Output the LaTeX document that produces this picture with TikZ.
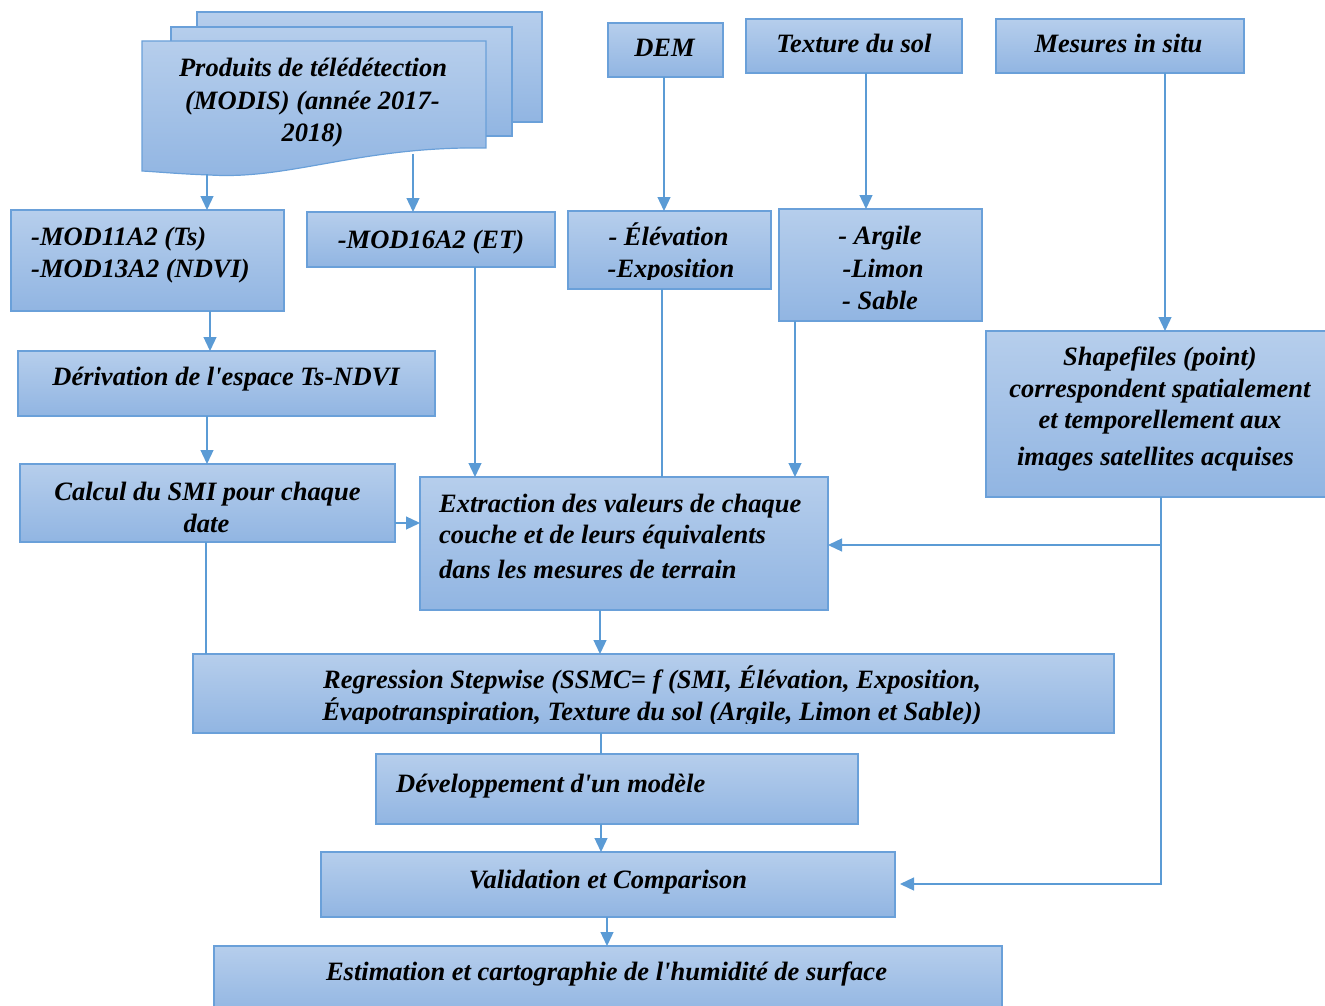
\documentclass[tikz,border=0pt]{standalone}
\usepackage{fontspec}
\setmainfont{Liberation Serif}
\usetikzlibrary{arrows.meta}
\definecolor{ftop}{RGB}{182,206,236}
\definecolor{fbot}{RGB}{145,181,226}
\definecolor{bord}{RGB}{106,160,217}
\definecolor{lin}{RGB}{91,155,213}
\tikzset{
 box/.style={draw=bord, line width=1.2pt, top color=ftop, bottom color=fbot, inner sep=0pt, outer sep=0pt},
 conn/.style={draw=lin, line width=1.3pt},
 arr/.style={conn, -{Triangle[length=14pt,width=13pt]}},
 lbl/.style={inner sep=0pt, anchor=base, font=\fontsize{26.5}{32}\selectfont\bfseries\itshape},
 lbll/.style={lbl, anchor=base west}
}
\newcommand\mybox[5]{\node[box, minimum width={#4-#2}, minimum height={#5-#3}] (#1) at ({(#2+#4)/2},{(#3+#5)/2}) {};}
\begin{document}
\begin{tikzpicture}[x=1pt,y=-1pt]
\useasboundingbox (0,0) rectangle (1325,1006);
% document stack
\path[box] (197,12) rectangle (542,122);
\path[box] (171,27) rectangle (512,136);
\path[box] (142,41) -- (486,41) -- (486,148) .. controls (360,146) and (290,180) .. (210,175) .. controls (180,174) and (160,172) .. (142,171) -- cycle;
\coordinate (docL) at (207,174);
\coordinate (docR) at (413,154);
\node[lbl] at (313,77) {Produits de télédétection};
\node[lbl] at (312.5,110) {(MODIS) (année 2017-};
\node[lbl] at (312.5,142) {2018)};
% boxes
\mybox{mod11}{11}{210}{284}{311}
\mybox{mod16}{307}{212}{555}{267}
\mybox{dem}{608}{23}{723}{77}
\mybox{tex}{746}{19}{962}{73}
\mybox{mes}{996}{19}{1244}{73}
\mybox{elev}{568}{211}{771}{289}
\mybox{arg}{779}{209}{982}{321}
\mybox{shp}{986}{331}{1327}{497}
\mybox{deriv}{18}{351}{435}{416}
\mybox{calc}{20}{464}{395}{542}
\mybox{extr}{420}{477}{828}{610}
\mybox{reg}{193}{654}{1114}{733}
\mybox{dev}{376}{754}{858}{824}
\mybox{val}{321}{852}{895}{917}
\mybox{est}{214}{946}{1002}{1015}
% texts
\node[lbll] at (31,245) {-MOD11A2 (Ts)};
\node[lbll] at (31,277) {-MOD13A2 (NDVI)};
\node[lbl] at (431,248) {-MOD16A2 (ET)};
\node[lbl] at (664.5,57) {DEM};
\node[lbl] at (854,53) {Texture du sol};
\node[lbl] at (1118.5,53) {Mesures in situ};
\node[lbl] at (668.5,245) {- Élévation};
\begin{scope}
\clip (568,211) rectangle (771,279);
\node[lbl] at (671,277) {-Exposition};
\end{scope}
\node[lbl] at (880,244) {- Argile};
\node[lbl] at (883,277) {-Limon};
\node[lbl] at (880,309) {- Sable};
\node[lbl] at (1160,365) {Shapefiles (point)};
\node[lbl] at (1160,397) {correspondent spatialement};
\node[lbl] at (1160,428) {et temporellement aux};
\node[lbl] at (1155.5,465) {images satellites acquises};
\node[lbl] at (226,385) {Dérivation de l\textquotesingle espace Ts-NDVI};
\node[lbl] at (207.5,500) {Calcul du SMI pour chaque};
\node[lbl] at (206.5,532) {date};
\node[lbll] at (439,512) {Extraction des valeurs de chaque};
\node[lbll] at (439,543) {couche et de leurs équivalents};
\node[lbll] at (439,578) {dans les mesures de terrain};
\node[lbl] at (652,688) {Regression Stepwise (SSMC= f (SMI, Élévation, Exposition,};
\begin{scope}
\clip (193,654) rectangle (1114,723);
\node[lbl] at (652,720) {Évapotranspiration, Texture du sol (Argile, Limon et Sable))};
\end{scope}
\node[lbll] at (396,792) {Développement d\textquotesingle un modèle};
\node[lbl] at (608,888) {Validation et Comparison};
\node[lbl] at (606.5,980) {Estimation et cartographie de l\textquotesingle humidité de surface};
% connectors
\coordinate (v664) at (664,0);
\coordinate (v866) at (866,0);
\coordinate (v1165) at (1165,0);
\coordinate (v210) at (210,0);
\coordinate (v207) at (207,0);
\coordinate (v475) at (475,0);
\coordinate (v662) at (662,0);
\coordinate (v795) at (795,0);
\coordinate (h523) at (0,523);
\coordinate (v1161) at (1161,0);
\coordinate (j1) at (1161,545);
\coordinate (j2) at (1161,884);
\coordinate (v206) at (206,0);
\coordinate (v600) at (600,0);
\coordinate (v601) at (601,0);
\coordinate (v607) at (607,0);
\draw[arr] (docL) -- (docL |- mod11.north);
\draw[arr] (docR) -- (docR |- mod16.north);
\draw[arr] (dem.south -| v664) -- (elev.north -| v664);
\draw[arr] (tex.south -| v866) -- (arg.north -| v866);
\draw[arr] (mes.south -| v1165) -- (shp.north -| v1165);
\draw[arr] (mod11.south -| v210) -- (deriv.north -| v210);
\draw[arr] (deriv.south -| v207) -- (calc.north -| v207);
\draw[arr] (mod16.south -| v475) -- (extr.north -| v475);
\draw[conn] (elev.south -| v662) -- (extr.north -| v662);
\draw[arr] (arg.south -| v795) -- (extr.north -| v795);
\draw[arr] (calc.east |- h523) -- (extr.west |- h523);
\draw[arr] (shp.south -| v1161) -- (j1) -- (extr.east |- j1);
\draw[arr, shorten >=5pt] (j1) -- (j2) -- (val.east |- j2);
\draw[conn] (calc.south -| v206) -- (reg.north -| v206);
\draw[arr] (extr.south -| v600) -- (reg.north -| v600);
\draw[conn] (reg.south -| v601) -- (dev.north -| v601);
\draw[arr] (dev.south -| v601) -- (val.north -| v601);
\draw[arr] (val.south -| v607) -- (est.north -| v607);
\end{tikzpicture}
\end{document}
